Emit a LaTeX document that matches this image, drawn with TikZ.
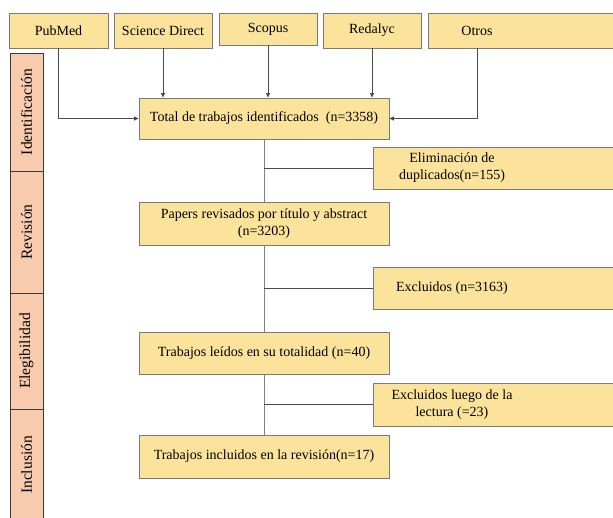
\documentclass[tikz,border=0pt]{standalone}
\usepackage{fontspec}
\setmainfont{Liberation Serif}
\usetikzlibrary{arrows.meta}
\definecolor{boxfill}{HTML}{FCE39B}
\definecolor{boxline}{HTML}{7A7A7A}
\definecolor{stagefill}{HTML}{F8CBAD}
\definecolor{stageline}{HTML}{3A3A3A}
\definecolor{connline}{HTML}{4A4A4A}
\begin{document}
\begin{tikzpicture}[x=1pt,y=-1pt,
  box/.style={draw=boxline, fill=boxfill, line width=0.9pt, inner sep=0pt, align=center,
              font=\fontsize{14}{17}\selectfont},
  txt/.style={inner sep=0pt, align=center, font=\fontsize{14}{17}\selectfont},
  stage/.style={draw=stageline, fill=stagefill, line width=0.9pt, rotate=90, inner sep=0pt,
                minimum height=33pt, font=\fontsize{15.5}{17}\selectfont},
  arr/.style={draw=connline, line width=0.8pt, -{Triangle[length=4.5pt,width=4pt]}},
  conn/.style={draw=connline, line width=0.8pt},
  vconn/.style={draw=gray, line width=0.9pt}]
\useasboundingbox (0,0) rectangle (613,517);
\clip (0,0) rectangle (613,517);
\fill[white] (0,0) rectangle (613,517);

% stage column
\node[stage, minimum width=118pt] (s1) at (26.5,112) {Identificación};
\node[stage, minimum width=122pt] (s2) at (26.5,232) {Revisión};
\node[stage, minimum width=116pt] (s3) at (26.5,351) {Elegibilidad};
\node[stage, minimum width=112pt] (s4) at (26.5,465) {Inclusión};

% source boxes
\node[box, minimum width=99pt, minimum height=35pt] (pub) at (58.5,30.5) {PubMed};
\node[box, minimum width=98pt, minimum height=35pt] (sd) at (163,30.5) {Science Direct};
\node[box, minimum width=98pt, minimum height=32pt] (scop) at (268,29) {Scopus};
\node[box, minimum width=98pt, minimum height=35pt] (red) at (372,30.5) {Redalyc};
\draw[draw=boxline, fill=boxfill, line width=0.9pt] (428,13) rectangle (640,48);
\node[txt, minimum width=98pt, minimum height=35pt] (otros) at (477,30.5) {Otros};

% main column
\node[box, minimum width=250pt, minimum height=41pt] (total) at (264,118.5)
  {Total de trabajos identificados~~(n=3358)};
\node[box, minimum width=250pt, minimum height=43pt] (papers) at (264,223.5)
  {Papers revisados por título y abstract\\(n=3203)};
\node[box, minimum width=250pt, minimum height=42pt] (leidos) at (264,353)
  {Trabajos leídos en su totalidad (n=40)};
\node[box, minimum width=250pt, minimum height=43pt] (incl) at (264,456.5)
  {Trabajos incluidos en la revisión(n=17)};

% side boxes
\draw[draw=boxline, fill=boxfill, line width=0.9pt] (373,147) rectangle (640,189);
\node[txt, minimum width=158pt, minimum height=42pt] (elim) at (452,168)
  {Eliminación de\\duplicados(n=155)};
\draw[draw=boxline, fill=boxfill, line width=0.9pt] (373,267) rectangle (640,309);
\node[txt, minimum width=158pt, minimum height=42pt] (excl) at (452,288)
  {Excluidos (n=3163)};
\draw[draw=boxline, fill=boxfill, line width=0.9pt] (373,383) rectangle (640,426);
\node[txt, minimum width=158pt, minimum height=43pt] (exclb) at (452,404.5)
  {Excluidos luego de la\\lectura (=23)};

% arrows from sources
\draw[arr] (pub.south) |- (total.west);
\draw[arr] (sd.south) -- (sd.south |- total.north);
\draw[arr] (scop.south) -- (scop.south |- total.north);
\draw[arr] (red.south) -- (red.south |- total.north);
\draw[arr] (otros.south) |- (total.east);

% main flow lines
\draw[vconn] (total.south) -- (papers.north);
\draw[vconn] (papers.south) -- (leidos.north);
\draw[vconn] (leidos.south) -- (incl.north);

% side branches
\draw[conn] (total.south |- elim.west) -- (elim.west);
\draw[conn] (papers.south |- excl.west) -- (excl.west);
\draw[conn] (leidos.south |- exclb.west) -- (exclb.west);
\end{tikzpicture}
\end{document}
